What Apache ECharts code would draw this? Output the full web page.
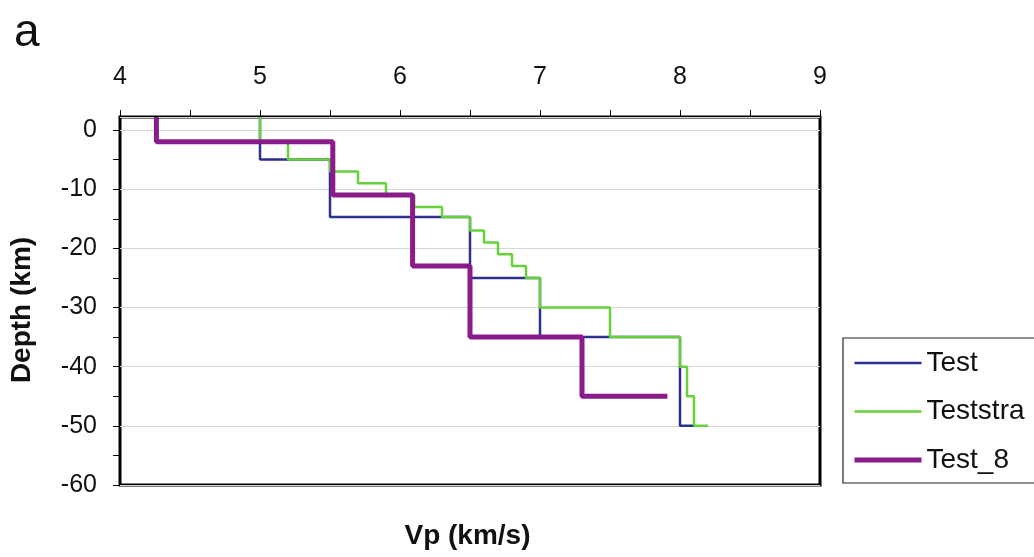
<!DOCTYPE html>
<html>
<head>
<meta charset="utf-8">
<script src="https://cdn.jsdelivr.net/npm/echarts@6/dist/echarts.min.js"></script>
<style>
  html, body { margin: 0; padding: 0; background: #fff; }
  #chart { width: 1034px; height: 557px; }
</style>
</head>
<body>
<div id="chart"></div>
<script>
// Vp step profiles: [Vp (km/s), depth (km)], depth negative downward
const seriesNames = ['Test', 'Teststra', 'Test_8'];

const test = [
  [5.0, 2.2], [5.0, -5], [5.5, -5], [5.5, -14.7], [6.5, -14.7], [6.5, -25],
  [7.0, -25], [7.0, -35], [8.0, -35], [8.0, -50], [8.1, -50]
];

const teststra = [
  [5.0, 2.2], [5.0, -2], [5.2, -2], [5.2, -5], [5.5, -5], [5.5, -7],
  [5.7, -7], [5.7, -9], [5.9, -9], [5.9, -11], [6.1, -11], [6.1, -13],
  [6.3, -13], [6.3, -14.7], [6.5, -14.7], [6.5, -17], [6.6, -17], [6.6, -19],
  [6.7, -19], [6.7, -21], [6.8, -21], [6.8, -23], [6.9, -23], [6.9, -25],
  [7.0, -25], [7.0, -30], [7.5, -30], [7.5, -35], [8.0, -35], [8.0, -40],
  [8.05, -40], [8.05, -45], [8.1, -45], [8.1, -50], [8.2, -50]
];

const test8 = [
  [4.26, 2.2], [4.26, -2], [5.52, -2], [5.52, -11], [6.09, -11], [6.09, -23],
  [6.5, -23], [6.5, -35], [7.3, -35], [7.3, -45], [7.91, -45]
];

// axis ticks
const vpTicks = [4, 5, 6, 7, 8, 9];
const depthLabels = [0, -10, -20, -30, -40, -50, -60];
const depthTicks = [0, -5, -10, -15, -20, -25, -30, -35, -40, -45, -50, -55, -60];

const FONT = "'Liberation Sans', Arial, Helvetica, sans-serif";
const colors = ['#2c318f', '#66d13a', '#8a1b8a'];
const widths = [2.5, 2.5, 5];

const chart = echarts.init(document.getElementById('chart'), null, { renderer: 'canvas' });

const option = {
  animation: false,
  backgroundColor: '#ffffff',
  grid: {
    left: 120, right: 214, top: 117, bottom: 72,
    show: true, borderColor: '#000', borderWidth: 3,
    outerBoundsMode: 'none'
  },
  xAxis: {
    type: 'value', position: 'top',
    min: vpTicks[0], max: vpTicks[vpTicks.length - 1], interval: 1,
    axisLine: { show: false, onZero: false },
    // ticks point up, away from the plot box
    axisTick: { show: true, inside: false, length: 7, lineStyle: { color: '#000', width: 1 } },
    minorTick: { show: true, splitNumber: 2, length: 7, lineStyle: { color: '#000', width: 1 } },
    splitLine: { show: false },
    axisLabel: { margin: 27, fontSize: 25, color: '#111', fontFamily: FONT }
  },
  yAxis: [
    {
      type: 'value',
      min: -60, max: 2.2,
      axisLine: { show: false, onZero: false },
      axisTick: { show: true, inside: false, length: 7, customValues: depthTicks,
                  lineStyle: { color: '#000', width: 1 } },
      axisLabel: { margin: 23, fontSize: 25, color: '#111', fontFamily: FONT,
                   customValues: depthLabels },
      splitLine: { show: false }
    },
    {
      // carries the horizontal grid lines every 10 km
      type: 'value',
      min: -60, max: 2.2, interval: 10,
      position: 'left',
      axisLine: { show: false, onZero: false },
      axisTick: { show: false },
      axisLabel: { show: false },
      splitLine: { show: true, lineStyle: { color: '#d6d6d6', width: 1 } }
    }
  ],
  legend: {
    orient: 'vertical',
    left: 852, top: 348,
    padding: 0,
    itemWidth: 67, itemHeight: 12, itemGap: 18.5,
    itemStyle: { opacity: 0 },
    data: seriesNames.map((n, i) => ({
      name: n,
      lineStyle: { color: colors[i], width: widths[i] }
    })),
    textStyle: { fontSize: 28, lineHeight: 30, color: '#111', fontFamily: FONT }
  },
  series: [test, teststra, test8].map((d, i) => ({
    name: seriesNames[i],
    type: 'line',
    data: d,
    yAxisIndex: 0,
    symbol: 'none',
    showSymbol: false,
    smooth: false,
    lineStyle: { color: colors[i], width: widths[i] },
    itemStyle: { color: colors[i] },
    emphasis: { disabled: true },
    z: 2 + i
  })),
  graphic: [
    {
      type: 'rect', silent: true, z: 0,
      shape: { x: 843, y: 338, width: 220, height: 145 },
      style: { fill: 'none', stroke: '#222', lineWidth: 1.2 }
    },
    {
      type: 'text', x: 14, y: 33,
      style: { text: 'a', font: "46px " + FONT, fill: '#111',
               textAlign: 'left', textVerticalAlign: 'middle' }
    },
    {
      type: 'text', x: 467.5, y: 536,
      style: { text: 'Vp (km/s)', font: "bold 28px " + FONT, fill: '#111',
               textAlign: 'center', textVerticalAlign: 'middle' }
    },
    {
      type: 'text', x: 22.5, y: 310, rotation: Math.PI / 2,
      style: { text: 'Depth (km)', font: "bold 28px " + FONT, fill: '#111',
               textAlign: 'center', textVerticalAlign: 'middle' }
    }
  ]
};

chart.setOption(option);
</script>
</body>
</html>
